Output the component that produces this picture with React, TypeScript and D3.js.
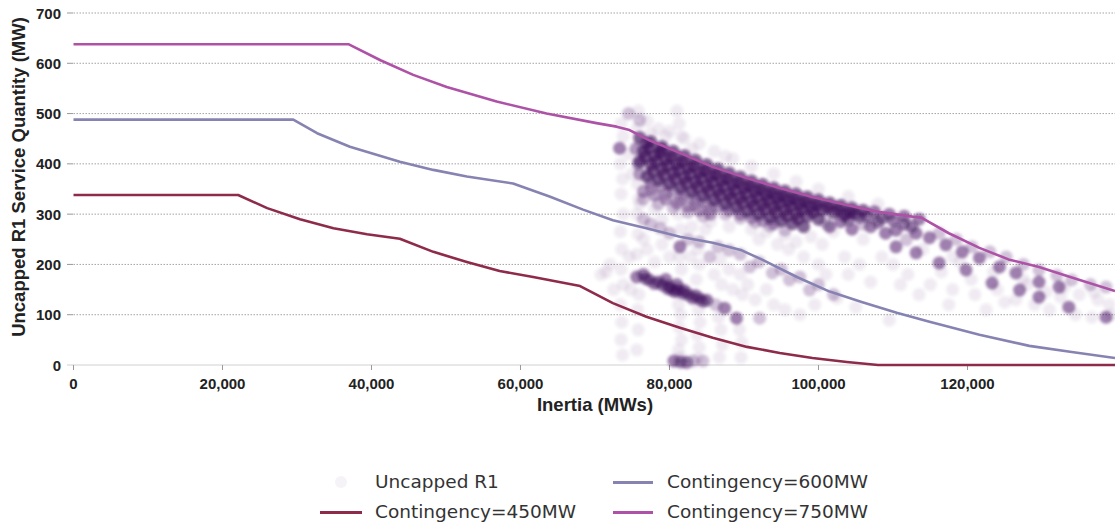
import * as d3 from "d3";

// Inertia (MWs) vs R1 quantity (MW) for each contingency size
const contingency450: [number, number][] = [
  [0, 338], [22100, 338], [26000, 312], [30400, 290], [34900, 272], [39400, 260],
  [43800, 251], [48300, 225], [52800, 205], [57200, 187], [61700, 175], [68000, 157],
  [72400, 123], [76900, 96], [81400, 74], [85800, 54], [90400, 36], [94800, 24],
  [99200, 14], [103800, 6], [108000, 0], [139800, 0],
];
const contingency600: [number, number][] = [
  [0, 488], [29500, 488], [32700, 461], [37100, 434], [43800, 404], [48300, 388],
  [52800, 375], [59000, 361], [63900, 335], [68400, 309], [72400, 288], [76900, 272],
  [81400, 255], [85800, 243], [89700, 228], [92500, 209], [97100, 175], [101500, 146],
  [105900, 125], [110500, 104], [114900, 86], [121600, 60], [128300, 38], [134000, 26],
  [139800, 14],
];
const contingency750: [number, number][] = [
  [0, 638], [36900, 638], [41200, 606], [45600, 577], [50100, 553], [56800, 524],
  [63500, 500], [70200, 481], [72900, 474], [74500, 468], [77300, 447], [81400, 422],
  [85800, 394], [90400, 372], [94800, 352], [99200, 334], [103800, 318], [108200, 304],
  [112600, 295], [113800, 293], [117500, 262], [121600, 233], [125500, 210],
  [129600, 195], [134000, 174], [139800, 147],
];

// Uncapped R1 scatter, grouped by how dark the cloud is
const scatterCore: [number, number][] = [
  [76000, 452], [77500, 444], [79000, 434], [80500, 425], [82000, 416], [83500, 407],
  [85000, 398], [86500, 390], [88000, 382], [89500, 374], [91000, 366], [92500, 359],
  [94000, 352], [95500, 346], [97000, 340], [98500, 334], [100000, 328], [101500, 322],
  [103000, 317], [104500, 312], [106000, 307],
  [77250, 432], [78750, 423], [80250, 414], [81750, 405], [83250, 396], [84750, 387],
  [86250, 379], [87750, 371], [89250, 363], [90750, 356], [92250, 349], [93750, 342],
  [95250, 336], [96750, 330], [98250, 324], [99750, 318], [101250, 313], [102750, 308],
  [104250, 303],
  [76500, 425], [78000, 417], [79500, 409], [81000, 400], [82500, 392], [84000, 383],
  [85500, 375], [87000, 367], [88500, 359], [90000, 352], [91500, 345], [93000, 338],
  [94500, 332], [96000, 326], [97500, 320], [99000, 314], [100500, 308], [102000, 303],
  [103500, 298],
  [76750, 414], [78250, 405], [79750, 397], [81250, 389], [82750, 380], [84250, 372],
  [85750, 364], [87250, 356], [88750, 348], [90250, 341], [91750, 334], [93250, 328],
  [94750, 322], [96250, 316], [97750, 310], [99250, 304],
  [76000, 405], [77500, 398], [79000, 390], [80500, 382], [82000, 373], [83500, 364],
  [85000, 356], [86500, 348], [88000, 340], [89500, 333], [91000, 326], [92500, 320],
  [94000, 314], [95500, 308], [97000, 302], [98500, 296], [100000, 290],
  [77750, 386], [79250, 378], [80750, 370], [82250, 362], [83750, 354], [85250, 346],
  [86750, 338], [88250, 331], [89750, 323], [91250, 316], [92750, 310], [94250, 304],
  [95750, 297], [97250, 291],
  [77000, 375], [78500, 368], [80000, 360], [81500, 352], [83000, 344], [84500, 336],
  [86000, 328], [87500, 320], [89000, 313], [90500, 306], [92000, 300], [93500, 293],
  [95000, 287], [96500, 281], [98000, 275],
];
const scatterCoreLow: [number, number][] = [
  [77500, 362], [79000, 355], [80500, 347], [82000, 339], [83500, 331], [85000, 323],
  [86500, 315], [88000, 308], [89500, 300], [91000, 293], [92500, 287], [94000, 281],
  [76500, 345], [78000, 338], [79500, 330], [81000, 322], [82500, 315], [84000, 308],
  [85500, 300], [76000, 380], [75500, 430], [75800, 400],
];
const scatterBand: [number, number][] = [
  [107500, 305], [109500, 300], [111500, 296], [113500, 290],
  [105000, 300], [106500, 296], [108500, 292], [110000, 288], [111500, 280], [112500, 275],
  [104000, 290], [107000, 275], [109000, 262], [103000, 285], [101500, 275], [104500, 270],
  [105500, 294], [108000, 284], [110400, 268], [113100, 262], [114900, 253],
  [117100, 239], [119300, 225], [121600, 213], [124300, 195], [126500, 183],
  [129600, 165], [132300, 155],
  [110400, 235], [113100, 223], [116200, 203], [119800, 189], [123300, 163],
  [127000, 149], [129600, 135], [133600, 115], [138600, 95],
  [75600, 175], [77300, 169], [78500, 165], [79100, 159], [80000, 156], [80400, 149],
  [81200, 150], [81800, 143], [82500, 140], [83100, 133], [84000, 132], [85000, 129],
  [78000, 162], [79800, 152], [80800, 146], [82000, 148], [83500, 138], [84500, 127],
  [76800, 172], [87400, 113], [89000, 93], [76500, 180], [79500, 170], [81000, 160],
  [81400, 235], [76900, 441], [78900, 428], [73300, 431],
  [80600, 8], [81500, 6], [82300, 5],
];
const scatterMid: [number, number][] = [
  [77500, 350], [79500, 340], [81500, 330], [83500, 320], [85500, 310], [87500, 300],
  [89500, 292], [91500, 284], [93500, 276], [95500, 268],
  [76500, 330], [78500, 320], [80500, 312], [82500, 304], [84500, 296],
  [116200, 262], [118500, 250], [120600, 235], [123000, 225], [125200, 215],
  [127500, 200], [129600, 189], [132000, 178], [134000, 169], [136500, 160], [138600, 155],
  [111800, 249], [106000, 280], [101000, 282],
  [76500, 290], [77500, 280], [78800, 272], [80000, 262], [82500, 250], [84000, 245],
  [85400, 215], [86500, 235], [88000, 228], [89500, 220], [90800, 195], [92000, 205],
  [93800, 183], [95000, 190], [96100, 169], [97500, 175], [98800, 149], [100000, 160],
  [102000, 140], [86200, 120], [92100, 93], [83200, 8], [84500, 8],
  [76000, 487], [74500, 500],
];
const scatterHaze: [number, number][] = [
  [73500, 480], [73800, 455], [73400, 400], [73700, 370], [73500, 340], [73800, 300],
  [73400, 265], [73600, 230], [73500, 190], [73800, 160], [73400, 120], [73600, 85],
  [73500, 50], [73700, 20],
  [75800, 505], [75600, 470], [75900, 440], [75700, 360], [75900, 330], [75600, 300],
  [75800, 260], [75600, 220], [75900, 140], [75700, 110], [75800, 70], [75600, 30],
  [81000, 505], [81300, 480], [81600, 455], [81200, 300], [81500, 270], [81300, 215],
  [81600, 190], [81200, 120], [81500, 100], [81300, 75], [81600, 50], [81200, 30], [81500, 15],
  [83800, 230], [84000, 200], [83600, 170], [83900, 110], [84100, 85], [83700, 60],
  [84000, 35], [83800, 12],
  [86800, 210], [87000, 160], [86600, 95], [86900, 70], [87100, 40], [86700, 15],
  [89500, 180], [89800, 140], [89400, 70], [89700, 45], [89600, 15],
  [71500, 185], [70800, 180], [72500, 150], [92000, 250], [94500, 240], [96000, 230],
  [98000, 215], [100000, 200], [102500, 133], [105000, 115], [109500, 89], [104000, 180],
  [107000, 165], [110000, 200], [112000, 180], [115000, 160], [118000, 150], [121000, 140],
  [125000, 125], [131000, 110], [136700, 95], [139000, 120], [135000, 140], [128000, 160],
  [119000, 205], [106000, 250], [102000, 265], [99000, 255], [95500, 258], [91000, 270],
  [77000, 485], [78500, 470], [80000, 465], [82000, 450], [84000, 440], [86000, 425],
  [88500, 410], [91000, 395], [94000, 380], [97000, 365], [100000, 350], [104000, 335],
  [108000, 320],
  [72000, 200], [74600, 215], [74800, 150], [76500, 250], [77000, 230], [78000, 205],
  [79000, 240], [80000, 215], [82800, 215], [83000, 275], [84800, 270], [86000, 180],
  [88000, 190], [88500, 150], [90500, 160], [91500, 130], [93000, 150], [94000, 120],
  [95500, 110], [97500, 100], [99500, 120], [101000, 180], [103500, 215], [105500, 200],
  [108500, 215], [111000, 160], [113500, 140], [116500, 185], [117500, 120], [120500, 170],
  [122500, 110], [124000, 150], [126500, 130], [129000, 120], [132500, 135], [134500, 100],
  [137500, 130], [139300, 100], [130500, 145], [114000, 230], [118000, 215], [123500, 185],
  [127500, 170], [133000, 155], [137000, 145], [100500, 240], [97000, 245], [93000, 265],
  [88000, 275], [85500, 285], [79000, 290], [78000, 310], [76000, 320], [75000, 380],
  [74500, 420], [77500, 460], [79500, 455], [83000, 430], [87500, 415],
];

const xTicks = [0, 20000, 40000, 60000, 80000, 100000, 120000];
const yTicks = [0, 100, 200, 300, 400, 500, 600, 700];

const W = 1115;
const H = 526;
const dotColor = "#3d0c5b";
const axisFont = "'Liberation Sans', Arial, sans-serif";
const legendFont = "'DejaVu Sans', sans-serif";

export default function App() {
  const x = d3.scaleLinear().domain([0, 139800]).range([73.5, 1115]);
  const y = d3.scaleLinear().domain([0, 700]).range([365, 13]);
  const line = d3.line<[number, number]>().x((d) => x(d[0])).y((d) => y(d[1]));
  const fmt = d3.format(",");

  const series = [
    { name: "Contingency=450MW", data: contingency450, color: "#8e2a4a" },
    { name: "Contingency=600MW", data: contingency600, color: "#8683b2" },
    { name: "Contingency=750MW", data: contingency750, color: "#ad52a6" },
  ];
  const clouds = [
    { pts: scatterHaze, op: 0.08 },
    { pts: scatterMid, op: 0.24 },
    { pts: scatterCoreLow, op: 0.38 },
    { pts: scatterCore, op: 0.65 },
    { pts: scatterBand, op: 0.5 },
  ];

  return (
    <svg width={W} height={H} style={{ position: "absolute", left: 0, top: 0, background: "#fff" }}>
      <defs>
        <filter id="soft" x="-5%" y="-5%" width="110%" height="110%">
          <feGaussianBlur stdDeviation={1.5} />
        </filter>
      </defs>
      {/* grid */}
      {yTicks.filter((t) => t > 0).map((t) => (
        <g key={t}>
          <line x1={73.5} x2={W} y1={y(t)} y2={y(t)} stroke="#9a9a9a" strokeWidth={0.9} strokeDasharray="1.5,1.5" />
          <line x1={67} x2={73} y1={y(t)} y2={y(t)} stroke="#999" strokeWidth={1} />
        </g>
      ))}
      <line x1={67} x2={W} y1={y(0)} y2={y(0)} stroke="#d0d0d0" strokeWidth={1} />
      {xTicks.map((t) => (
        <line key={t} x1={x(t)} x2={x(t)} y1={y(0)} y2={y(0) + 5} stroke="#999" strokeWidth={1} />
      ))}

      {/* scatter */}
      <g filter="url(#soft)">
        {clouds.map((c, i) => (
          <g key={i} fill={dotColor} fillOpacity={c.op}>
            {c.pts.map((p, j) => (
              <circle key={j} cx={x(p[0])} cy={y(p[1])} r={6.5} />
            ))}
          </g>
        ))}
      </g>

      {/* lines */}
      {series.map((s) => (
        <path key={s.name} d={line(s.data) || ""} fill="none" stroke={s.color} strokeWidth={2.6} strokeLinejoin="round" />
      ))}

      {/* tick labels */}
      <g fontFamily={axisFont} fontWeight="bold" fontSize={15} fill="#222">
        {yTicks.map((t) => (
          <text key={t} x={61} y={y(t)} textAnchor="end" dominantBaseline="central">{t}</text>
        ))}
        {xTicks.map((t) => (
          <text key={t} x={x(t)} y={389} textAnchor="middle">{fmt(t)}</text>
        ))}
      </g>
      <text x={595} y={411} textAnchor="middle" fontFamily={axisFont} fontWeight="bold" fontSize={18.5} fill="#222">
        Inertia (MWs)
      </text>
      <text transform={`translate(18,177) rotate(-90)`} textAnchor="middle" dominantBaseline="central"
        fontFamily={axisFont} fontWeight="bold" fontSize={18.5} fill="#222">
        Uncapped R1 Service Quantity (MW)
      </text>

      {/* legend */}
      <g fontFamily={legendFont} fontSize={18.5} fill="#333">
        <circle cx={341} cy={482} r={6} fill={dotColor} fillOpacity={0.05} />
        <text x={375} y={488}>Uncapped R1</text>
        <line x1={320} x2={362} y1={512.5} y2={512.5} stroke={series[0].color} strokeWidth={3} />
        <text x={375} y={518}>{series[0].name}</text>
        <line x1={613} x2={653} y1={482.5} y2={482.5} stroke={series[1].color} strokeWidth={3} />
        <text x={667} y={488}>{series[1].name}</text>
        <line x1={613} x2={653} y1={512.5} y2={512.5} stroke={series[2].color} strokeWidth={3} />
        <text x={667} y={518}>{series[2].name}</text>
      </g>
    </svg>
  );
}
